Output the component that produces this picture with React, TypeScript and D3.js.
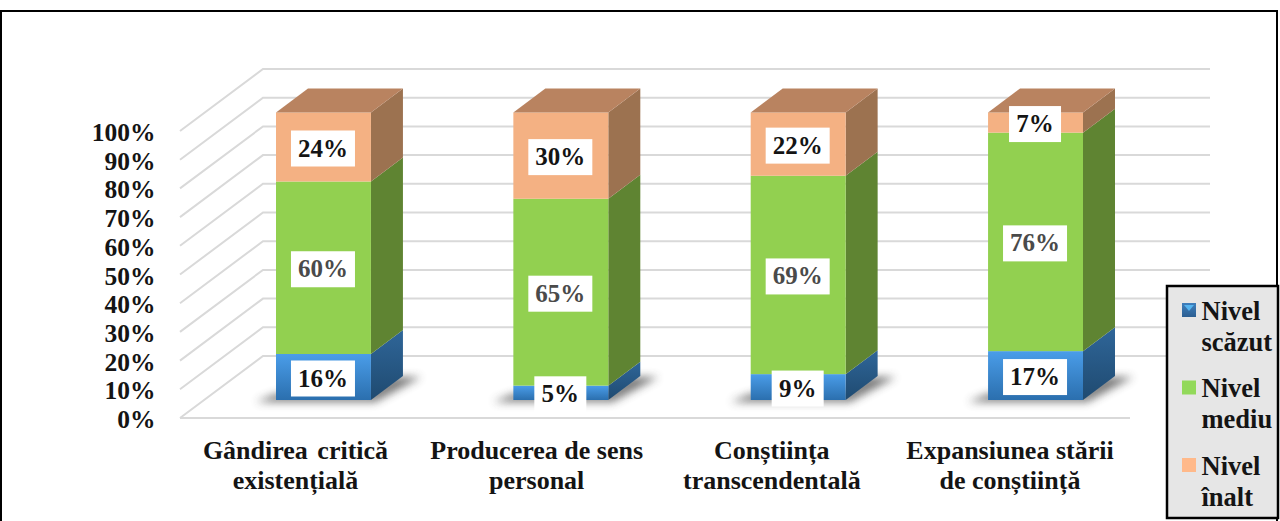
import React from 'react';
import * as d3 from 'd3';

const categories = ['Gândirea critică existențială', 'Producerea de sens personal', 'Conștiința transcendentală', 'Expansiunea stării de conștiință'];
const categoryLines = [
  ['Gândirea critică', 'existențială'],
  ['Producerea de sens', 'personal'],
  ['Conștiința', 'transcendentală'],
  ['Expansiunea stării', 'de conștiință'],
];
const nivelScazut = [16, 5, 9, 17];
const nivelMediu = [60, 65, 69, 76];
const nivelInalt = [24, 30, 22, 7];
const seriesKeys = ['scazut', 'mediu', 'inalt'];
const legendLabels = [['Nivel', 'scăzut'], ['Nivel', 'mediu'], ['Nivel', 'înalt']];
const ticks = [0, 10, 20, 30, 40, 50, 60, 70, 80, 90, 100];

const FONT = '"Liberation Serif", serif';
const TEXT = '#141414';

// chart box, 3d offsets
const wallDx = 83;
const wallDy = -62;
const barDx = 32;
const barDy = -24;

const x = d3.scaleBand<string>().domain(categories).range([276, 1083]).paddingInner(0.6);
const xLabel = d3.scalePoint<string>().domain(categories).range([295.5, 1010]);
const yBar = d3.scaleLinear().domain([0, 100]).range([400, 112.5]);
const yFloor = d3.scaleLinear().domain([0, 100]).range([418, 131]);

const rows = categories.map((c, i) => ({ cat: c, scazut: nivelScazut[i], mediu: nivelMediu[i], inalt: nivelInalt[i] }));
const stacked = d3.stack<any>().keys(seriesKeys)(rows);

const fronts: Record<string, string> = { scazut: 'url(#blueFront)', mediu: '#92d050', inalt: '#f4b183' };
const sides: Record<string, string> = { scazut: 'url(#blueSide)', mediu: '#5f8432', inalt: '#9c7250' };
const topColor = '#b98360';

const poly = (pts: number[][]) => pts.map(p => p.join(',')).join(' ');

export default function App() {
  const w = x.bandwidth();
  return (
    <svg width={1280} height={521} style={{ position: 'fixed', left: 0, top: 0, background: '#fff' }} fontFamily={FONT}>
      <defs>
        <linearGradient id="blueFront" x1="0" y1="0" x2="0" y2="1">
          <stop offset="0" stopColor="#4a9de9" />
          <stop offset="1" stopColor="#2b6fae" />
        </linearGradient>
        <linearGradient id="blueSide" x1="0" y1="0" x2="0" y2="1">
          <stop offset="0" stopColor="#2f6699" />
          <stop offset="1" stopColor="#1f4a70" />
        </linearGradient>
        <linearGradient id="swatchBlue" x1="0" y1="0" x2="0" y2="1">
          <stop offset="0" stopColor="#3f7fbd" />
          <stop offset="1" stopColor="#2c5f92" />
        </linearGradient>
        <filter id="shadowBlur" x="-20%" y="-50%" width="140%" height="200%">
          <feGaussianBlur stdDeviation="4.5" />
        </filter>
      </defs>

      <rect x={1} y={11} width={1276} height={520} fill="#fff" stroke="#000" strokeWidth={2} />

      {/* back wall + floor gridlines */}
      <g stroke="#d9d9d9" strokeWidth={2} fill="none">
        {ticks.map(t => (
          <polyline
            key={t}
            points={poly([
              [180, yFloor(t)],
              [180 + wallDx, yFloor(t) + wallDy],
              [1210, yFloor(t) + wallDy],
            ])}
          />
        ))}
        <line x1={180} x2={1130} y1={yFloor(0)} y2={yFloor(0)} />
      </g>

      {/* y labels */}
      <g fontSize={25.5} fontWeight="bold" fill={TEXT} textAnchor="end">
        {ticks.map(t => (
          <text key={t} x={155.5} y={yFloor(t) + 10}>{t}%</text>
        ))}
      </g>

      {/* floor shadows */}
      {categories.map(c => {
        const x0 = x(c)!;
        const base = yBar(0);
        return (
          <polygon
            key={c}
            filter="url(#shadowBlur)"
            fill="#404040"
            opacity={0.7}
            points={poly([
              [x0 - 20, base + 2],
              [x0 + w + 4, base + 2],
              [x0 + w + barDx + 18, base + barDy + 1],
              [x0 + w + barDx - 10, base + barDy + 1],
              [x0 + w - 2, base - 6],
              [x0, base - 6],
            ])}
          />
        );
      })}

      {/* bars */}
      {stacked.map(layer => (
        <g key={layer.key}>
          {layer.map((d, i) => {
            const x0 = x(categories[i])!;
            const y0 = yBar(d[0]);
            const y1 = yBar(d[1]);
            return (
              <g key={i}>
                <polygon
                  fill={sides[layer.key]}
                  points={poly([
                    [x0 + w, y0],
                    [x0 + w + barDx, y0 + barDy],
                    [x0 + w + barDx, y1 + barDy],
                    [x0 + w, y1],
                  ])}
                />
                <rect x={x0} y={y1} width={w} height={y0 - y1} fill={fronts[layer.key]} />
                {layer.key === 'inalt' && (
                  <polygon
                    fill={topColor}
                    points={poly([
                      [x0, y1],
                      [x0 + barDx, y1 + barDy],
                      [x0 + w + barDx, y1 + barDy],
                      [x0 + w, y1],
                    ])}
                  />
                )}
              </g>
            );
          })}
        </g>
      ))}

      {/* value labels */}
      {stacked.map(layer => (
        <g key={layer.key}>
          {layer.map((d, i) => {
            const v = d[1] - d[0];
            const cx = x(categories[i])! + w / 2 - 0.5;
            const cy = yBar((d[0] + d[1]) / 2) + 1.5;
            const bw = v < 10 ? 52 : 64;
            return (
              <g key={i}>
                <rect x={cx - bw / 2} y={cy - 18} width={bw} height={36} fill="#fff" />
                <text
                  x={cx}
                  y={cy + 8}
                  textAnchor="middle"
                  fontSize={25}
                  fontWeight="bold"
                  fill={layer.key === 'mediu' ? '#4a4a4a' : TEXT}
                >
                  {v}%
                </text>
              </g>
            );
          })}
        </g>
      ))}

      {/* category labels */}
      <g fontSize={26} fontWeight="bold" fill={TEXT} textAnchor="middle">
        {categoryLines.map((lines, i) =>
          lines.map((l, j) => (
            <text key={j} x={xLabel(categories[i])! + (i === 1 ? 3 : 0)} y={459 + j * 30} wordSpacing={i === 0 && j === 0 ? 3 : 0}>{l}</text>
          ))
        )}
      </g>

      {/* legend */}
      <rect x={1167} y={286} width={111} height={232} fill="#e6e6e6" stroke="#000" strokeWidth={2.5} />
      {legendLabels.map((lines, i) => {
        const top = 303 + i * 77.5;
        const colors = ['url(#swatchBlue)', '#92d95a', '#ffb98a'];
        return (
          <g key={i}>
            <rect x={1182} y={top} width={14} height={14} fill={colors[i]} />
            {i === 0 && (
              <polygon fill="#55b4f0" points={poly([[1184, top + 2], [1194, top + 2], [1189, top + 8]])} />
            )}
            {lines.map((l, j) => (
              <text key={j} x={1201.5} y={top + 16.5 + j * 31} fontSize={26.5} fontWeight="bold" fill={TEXT}>{l}</text>
            ))}
          </g>
        );
      })}
    </svg>
  );
}
